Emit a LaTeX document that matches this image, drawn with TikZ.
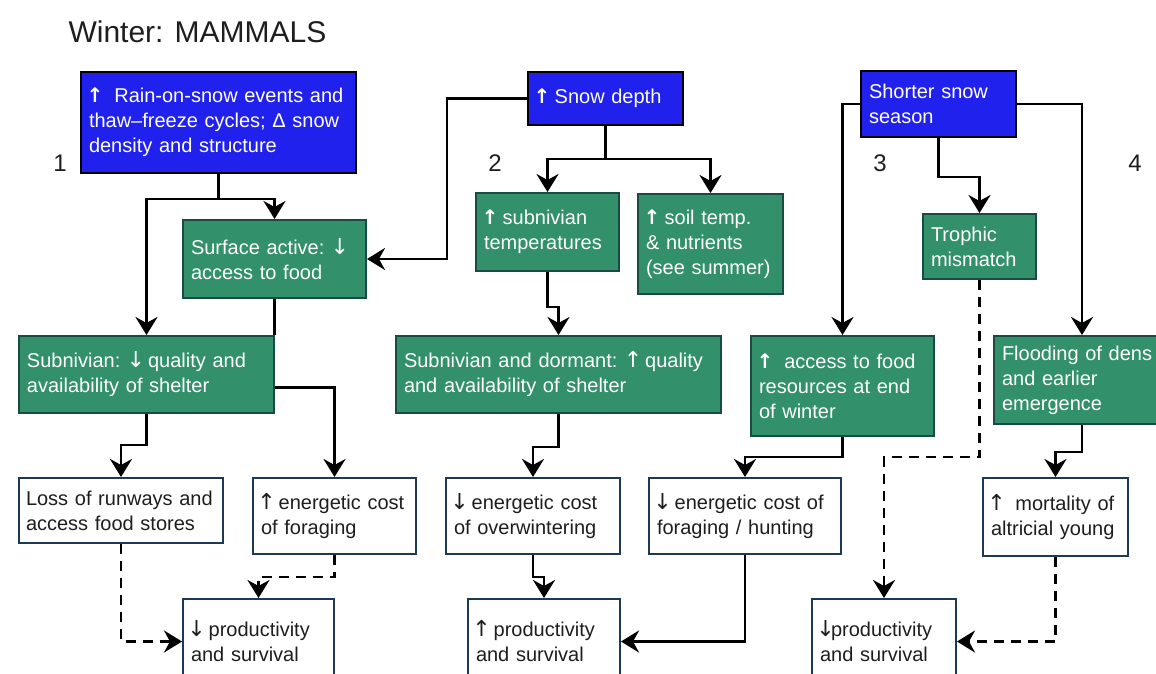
\documentclass[tikz,border=0pt]{standalone}
\usepackage{fontspec}
\setmainfont{Liberation Sans}
\newfontfamily\arrowfont{DejaVu Sans}
\usetikzlibrary{arrows.meta}
\definecolor{snowblue}{HTML}{2121EE}
\definecolor{effgreen}{HTML}{32906A}
\definecolor{effedge}{HTML}{1B4A44}
\definecolor{outedge}{HTML}{1C3A55}
\definecolor{ink}{HTML}{1E1E1E}

% heavy arrows in the coloured boxes, thin ones elsewhere
\newcommand{\up}{\makebox[12pt][c]{\arrowfont\bfseries ↑}}
\newcommand{\thinup}{\makebox[11pt][c]{\arrowfont\fontsize{22}{25}\selectfont ↑}}
\newcommand{\thindown}{\makebox[11pt][c]{\arrowfont\fontsize{22}{25}\selectfont ↓}}
\tikzset{
  box/.style={draw,line width=2pt,anchor=north west,align=left,inner xsep=8pt,inner ysep=4pt},
  driver/.style={box,fill=snowblue,draw=black,text=white},
  effect/.style={box,fill=effgreen,draw=effedge,text=white},
  outcome/.style={box,fill=white,draw=outedge,text=ink},
  flow/.style={line width=2.8pt,-{Stealth[length=18pt,width=22pt,inset=6pt]}},
  maybe/.style={flow,dash pattern=on 10pt off 7pt},
  num/.style={font=\fontsize{24}{24}\selectfont,text=ink}
}

\begin{document}
\begin{tikzpicture}[x=1pt,y=-1pt,font=\fontsize{20}{25}\selectfont]
  \fill[white] (0,0) rectangle (1156,673);
  \useasboundingbox (0,0) rectangle (1156,673);

  \node[anchor=base west,font=\fontsize{30}{32}\selectfont,text=ink] (title) at (65,42) {Winter: MAMMALS};

  % pathway numbers
  \node[num] (n1) at (60,163) {1};
  \node[num] (n2) at (495,163) {2};
  \node[num] (n3) at (880,163) {3};
  \node[num] (n4) at (1135,163) {4};

  % snow drivers
  \node[driver,text width=259pt,minimum height=101pt] (rain) at (80,71)
    {\mbox{\up\ \ Rain-on-snow events and}\\thaw--freeze cycles; Δ snow\\density and structure};
  \node[driver,text width=139pt,minimum height=53pt] (snow) at (527,71) {\up\ Snow depth};
  \node[driver,text width=139pt,minimum height=66pt] (short) at (860,70) {Shorter snow\\season};

  % effects on the animals
  \node[effect,text width=167pt,minimum height=78pt] (surf) at (182,219) {\mbox{Surface active: \thindown}\\access to food};
  \node[effect,text width=239pt,minimum height=77pt] (shel) at (18,335) {\mbox{Subnivian: \thindown\ quality and}\\availability of shelter};
  \node[effect,text width=127pt,minimum height=78pt] (subt) at (475,192) {\up\ subnivian\\temperatures};
  \node[effect,text width=129pt,minimum height=100pt] (soil) at (637,193) {\up\ soil temp.\\\& nutrients\\(see summer)};
  \node[effect,text width=309pt,minimum height=77pt] (dorm) at (395,335) {\mbox{Subnivian and dormant: \thinup\ quality}\\and availability of shelter};
  \node[effect,text width=97pt,minimum height=65pt] (troph) at (922,213) {Trophic\\mismatch};
  \node[effect,text width=167pt,minimum height=100pt] (acc) at (750,335) {\mbox{\up\ \ access to food}\\resources at end\\of winter};
  \node[effect,text width=160pt,minimum height=88pt] (flood) at (993,335) {Flooding of dens\\and earlier\\emergence};

  % costs
  \node[outcome,text width=190pt,inner xsep=7pt,minimum height=65pt] (runw) at (18,477) {Loss of runways and\\access food stores};
  \node[outcome,text width=147pt,minimum height=76pt] (forg) at (252,477) {\mbox{\thinup\ energetic cost}\\of foraging};
  \node[outcome,text width=158pt,minimum height=76pt] (owin) at (445,477) {\mbox{\thindown\ energetic cost}\\of overwintering};
  \node[outcome,text width=176pt,minimum height=76pt] (hunt) at (648,477) {\mbox{\thindown\ energetic cost of}\\foraging / hunting};
  \node[outcome,text width=129pt,minimum height=78pt] (mort) at (982,477) {\mbox{\thinup\ \ mortality of}\\altricial young};

  % population outcomes
  \node[outcome,text width=135pt,minimum height=85pt] (prodA) at (182,598) {\thindown\ productivity\\and survival};
  \node[outcome,text width=136pt,minimum height=85pt] (prodB) at (467,598) {\thinup\ productivity\\and survival};
  \node[outcome,text width=128pt,minimum height=85pt] (prodC) at (811,598) {\thindown productivity\\and survival};

  % pathway 1
  \draw[flow] (rain.south) -- ++(0,25) -| (surf.north);
  \draw[flow] (rain.south) -- ++(0,25) -| (shel.north);
  \draw[line width=2.8pt] (surf.south) -- (surf.south |- shel.north);
  \draw[flow] (shel.south) -- ++(0,31) -| (runw.north);
  \draw[flow] ([yshift=-13pt]shel.east) -| (forg.north);
  \draw[maybe] (runw.south) |- (prodA.west);
  \draw[maybe] (forg.south) -- ++(0,22) -| (prodA.north);

  % pathway 2
  \draw[flow] (snow.west) -- ++(-80,0) |- (surf.east);
  \draw[flow] (snow.south) -- ++(0,33) -| (subt.north);
  \draw[flow] (snow.south) -- ++(0,33) -| (soil.north);
  \draw[flow] (subt.south) -- ++(0,35) -| (dorm.north);
  \draw[flow] (dorm.south) -- ++(0,33) -| (owin.north);
  \draw[flow] (owin.south) -- ++(0,22) -| (prodB.north);

  % pathways 3 and 4
  \draw[flow] (short.west) -| (acc.north);
  \draw[flow] (short.south) -- ++(0,39) -| (troph.north);
  \draw[flow] (short.east) -| (flood.north);
  \draw[flow] (acc.south) -- ++(0,20) -| (hunt.north);
  \draw[flow] (hunt.south) |- (prodB.east);
  \draw[maybe] (troph.south) -- ++(0,177) -| (prodC.north);
  \draw[flow] (flood.south) -- ++(0,27) -| (mort.north);
  \draw[maybe] (mort.south) |- (prodC.east);
\end{tikzpicture}
\end{document}
